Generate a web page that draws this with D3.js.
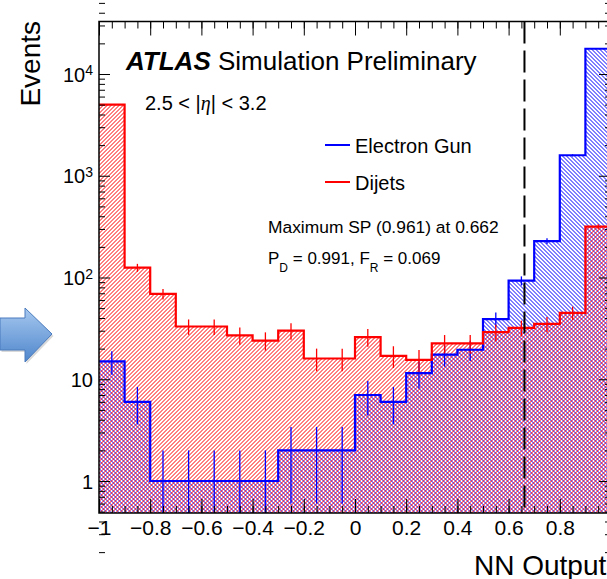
<!DOCTYPE html>
<html>
<head>
<meta charset="utf-8">
<script src="https://cdn.jsdelivr.net/npm/d3@7"></script>
<style>
  body { margin: 0; background: #fff; }
  svg { display: block; font-family: "Liberation Sans", Arial, Helvetica, sans-serif; }
</style>
</head>
<body>
<script>
// bin edges: 20 bins from -1 to 1 (NN output)
const binEdges = [-1, -0.9, -0.8, -0.7, -0.6, -0.5, -0.4, -0.3, -0.2, -0.1, 0,
                  0.1, 0.2, 0.3, 0.4, 0.5, 0.6, 0.7, 0.8, 0.9, 1.0];
// Dijets (red)
const dijets = [5000, 125, 69, 33, 33, 27, 24, 30, 16, 16,
                26, 17, 15.5, 22.5, 22.5, 29, 32, 35, 45, 316];
const dijetsErr = [71, 11.2, 8.3, 5.7, 5.7, 5.2, 4.9, 5.5, 4, 4,
                   5.1, 4.1, 3.9, 4.7, 4.7, 5.4, 5.7, 5.9, 6.7, 17.8];
// Electron Gun (blue)
const electron = [15, 6, 1, 1, 1, 1, 1, 2, 2, 2,
                  7, 6, 11.5, 17.5, 19.5, 39, 93, 228, 1590, 17700];
const electronErr = [3.9, 2.4, 1, 1, 1, 1, 1, 1.4, 1.4, 1.4,
                     2.6, 2.4, 3.4, 4.2, 4.4, 6.2, 9.6, 15.1, 39.9, 133];

const xMajorTicks = [-1, -0.8, -0.6, -0.4, -0.2, 0, 0.2, 0.4, 0.6, 0.8];
const xTickLabels = ["\u22121", "\u22120.8", "\u22120.6", "\u22120.4", "\u22120.2", "0", "0.2", "0.4", "0.6", "0.8"];
const yMajorTicks = [1, 10, 100, 1000, 10000];
const yTickExp = [null, null, "2", "3", "4"];
const cutValue = 0.662;

const width = 607, height = 579;
const pLeft = 99, pRight = 611, pTop = 21.5, pBottom = 513;

const svg = d3.select("body").append("svg")
  .attr("width", width).attr("height", height);

const x = d3.scaleLinear().domain([-1, 1]).range([pLeft, pRight]);
const y = d3.scaleLog().domain([0.4848, 32810]).range([pBottom, pTop]);

const defs = svg.append("defs");
defs.append("clipPath").attr("id", "plotclip")
  .append("rect").attr("x", pLeft).attr("y", pTop)
  .attr("width", pRight - pLeft).attr("height", pBottom - pTop);

// blue arrow on the left
const grad = defs.append("linearGradient").attr("id", "arrowGrad")
  .attr("x1", 0).attr("y1", 0).attr("x2", 0).attr("y2", 1);
grad.append("stop").attr("offset", "0%").attr("stop-color", "#a6c8ef");
grad.append("stop").attr("offset", "100%").attr("stop-color", "#4f86cc");
const arrowPts = [[0, 318], [25, 318], [25, 308], [52, 334], [25, 362], [25, 350], [0, 350]];
svg.append("path")
  .attr("d", d3.line()(arrowPts.map(p => [p[0] + 1.5, p[1] + 2])) + "Z")
  .attr("fill", "#000").attr("opacity", 0.15);
svg.append("path")
  .attr("d", d3.line()(arrowPts) + "Z")
  .attr("fill", "url(#arrowGrad)").attr("stroke", "#4a7bbd").attr("stroke-width", 1);

function stepPath(vals) {
  let d = `M${x(binEdges[0])},${pBottom}`;
  vals.forEach((v, i) => {
    d += `L${x(binEdges[i])},${y(v)}L${x(binEdges[i + 1])},${y(v)}`;
  });
  d += `L${x(binEdges[binEdges.length - 1])},${pBottom}Z`;
  return d;
}

const plot = svg.append("g").attr("clip-path", "url(#plotclip)");

// hatched fills: lines clipped to the histogram area (red "///", blue "\\\")
function hatchFill(id, vals, color, forward) {
  defs.append("clipPath").attr("id", id).append("path").attr("d", stepPath(vals));
  const H = 500, step = 4;
  const starts = d3.range(pLeft - H + 0.5, pRight + step, step);
  plot.append("g").attr("clip-path", `url(#${id})`)
    .selectAll("line").data(starts).join("line")
    .attr("x1", c => c).attr("x2", c => c + H)
    .attr("y1", forward ? pBottom : pBottom - H).attr("y2", forward ? pBottom - H : pBottom)
    .attr("stroke", color).attr("stroke-width", 1.0);
}
hatchFill("clipBlue", electron, "#0000ff", false);
hatchFill("clipRed", dijets, "#ff0000", true);

function errBars(vals, errs, color) {
  plot.append("g").selectAll("line")
    .data(vals.map((v, i) => ({ v, e: errs[i], c: (binEdges[i] + binEdges[i + 1]) / 2 })))
    .join("line")
    .attr("x1", d => x(d.c)).attr("x2", d => x(d.c))
    .attr("y1", d => d.v - d.e > 0 ? y(d.v - d.e) : pBottom + 5)
    .attr("y2", d => y(d.v + d.e))
    .attr("stroke", color).attr("stroke-width", 1.3);
}
errBars(electron, electronErr, "#0000ff");
errBars(dijets, dijetsErr, "#ff0000");

function outline(vals, color) {
  let d = "";
  vals.forEach((v, i) => {
    d += (i === 0 ? "M" : "L") + `${x(binEdges[i])},${y(v)}L${x(binEdges[i + 1])},${y(v)}`;
  });
  plot.append("path").attr("d", d).attr("fill", "none")
    .attr("stroke", color).attr("stroke-width", 2.2);
}
outline(electron, "#0000ff");
outline(dijets, "#ff0000");

// cut line
svg.append("line")
  .attr("x1", x(cutValue)).attr("x2", x(cutValue))
  .attr("y1", pTop).attr("y2", pBottom)
  .attr("stroke", "#000").attr("stroke-width", 2)
  .attr("stroke-dasharray", "22,7");

// axes
const xMinor = d3.range(-1, 1.0001, 0.05).map(v => +v.toFixed(2));
const yMinor = [];
for (let e = -1; e <= 4; e++) for (let k = 2; k <= 9; k++) yMinor.push(k * Math.pow(10, e));

function clean(g) { g.select(".domain").remove(); g.selectAll("line").attr("stroke", "#000"); }

svg.append("g").attr("transform", `translate(0,${pBottom})`)
  .call(d3.axisBottom(x).tickValues(xMinor).tickSize(-7).tickFormat(""))
  .call(clean);
svg.append("g").attr("transform", `translate(0,${pBottom})`)
  .call(d3.axisBottom(x).tickValues(xMajorTicks).tickSize(-14).tickPadding(7)
    .tickFormat((d, i) => xTickLabels[i]))
  .call(clean)
  .call(g => g.selectAll("text").attr("font-size", 21).attr("fill", "#000")
    .attr("font-family", "Liberation Sans, Arial, sans-serif"));
svg.append("g").attr("transform", `translate(0,${pTop})`)
  .call(d3.axisTop(x).tickValues(xMinor).tickSize(-7).tickFormat(""))
  .call(clean);
svg.append("g").attr("transform", `translate(0,${pTop})`)
  .call(d3.axisTop(x).tickValues(xMajorTicks).tickSize(-14).tickFormat(""))
  .call(clean);

svg.append("g").attr("transform", `translate(${pLeft},0)`)
  .call(d3.axisLeft(y).tickValues(yMinor).tickSize(-6).tickFormat(""))
  .call(clean);
svg.append("g").attr("transform", `translate(${pRight},0)`)
  .call(d3.axisRight(y).tickValues(yMinor).tickSize(-6).tickFormat(""))
  .call(clean);
svg.append("g").attr("transform", `translate(${pRight},0)`)
  .call(d3.axisRight(y).tickValues(yMajorTicks).tickSize(-12).tickFormat(""))
  .call(clean);
const yAx = svg.append("g").attr("transform", `translate(${pLeft},0)`)
  .call(d3.axisLeft(y).tickValues(yMajorTicks).tickSize(-11).tickPadding(6).tickFormat(""))
  .call(clean);
yAx.selectAll(".tick").append("text")
  .attr("x", -6).attr("dy", "0.35em").attr("text-anchor", "end")
  .attr("font-size", 20).attr("fill", "#000")
  .each(function (d, i) {
    const t = d3.select(this);
    if (yTickExp[i] === null) { t.text(d); return; }
    t.append("tspan").text("10");
    t.append("tspan").attr("dy", "-0.45em").attr("font-size", 14).text(yTickExp[i]);
  });

// frame
svg.append("rect").attr("x", pLeft).attr("y", pTop)
  .attr("width", pRight - pLeft).attr("height", pBottom - pTop)
  .attr("fill", "none").attr("stroke", "#000").attr("stroke-width", 1.5);

// axis titles
svg.append("text").attr("transform", "translate(40,21) rotate(-90)")
  .attr("text-anchor", "end").attr("font-size", 28).text("Events");
svg.append("text").attr("x", 474).attr("y", 575)
  .attr("font-size", 28).text("NN Output");

// labels
const lab = svg.append("text").attr("x", 126).attr("y", 70).attr("font-size", 26);
lab.append("tspan").attr("font-weight", "bold").attr("font-style", "italic").text("ATLAS");
lab.append("tspan").text(" Simulation Preliminary");

const eta = svg.append("text").attr("x", 145).attr("y", 110).attr("font-size", 20);
eta.append("tspan").text("2.5 < |");
eta.append("tspan").attr("font-family", "Liberation Serif, serif").attr("font-style", "italic").text("\u03b7");
eta.append("tspan").text("| < 3.2");

// legend
const legendNames = ["Electron Gun", "Dijets"];
const legendColors = ["#0000ff", "#ff0000"];
const legendY = [145, 182];
legendNames.forEach((n, i) => {
  svg.append("line").attr("x1", 325).attr("x2", 350)
    .attr("y1", legendY[i]).attr("y2", legendY[i])
    .attr("stroke", legendColors[i]).attr("stroke-width", 2);
  svg.append("text").attr("x", 355).attr("y", legendY[i] + 8)
    .attr("font-size", 20).text(n);
});

svg.append("text").attr("x", 268).attr("y", 233).attr("font-size", 17.4)
  .text("Maximum SP (0.961) at 0.662");
const pd = svg.append("text").attr("x", 268).attr("y", 264).attr("font-size", 17);
pd.append("tspan").text("P");
pd.append("tspan").attr("dy", 8).attr("font-size", 12).text("D");
pd.append("tspan").attr("dy", -8).text(" = 0.991, F");
pd.append("tspan").attr("dy", 8).attr("font-size", 12).text("R");
pd.append("tspan").attr("dy", -8).text(" = 0.069");
</script>
</body>
</html>
